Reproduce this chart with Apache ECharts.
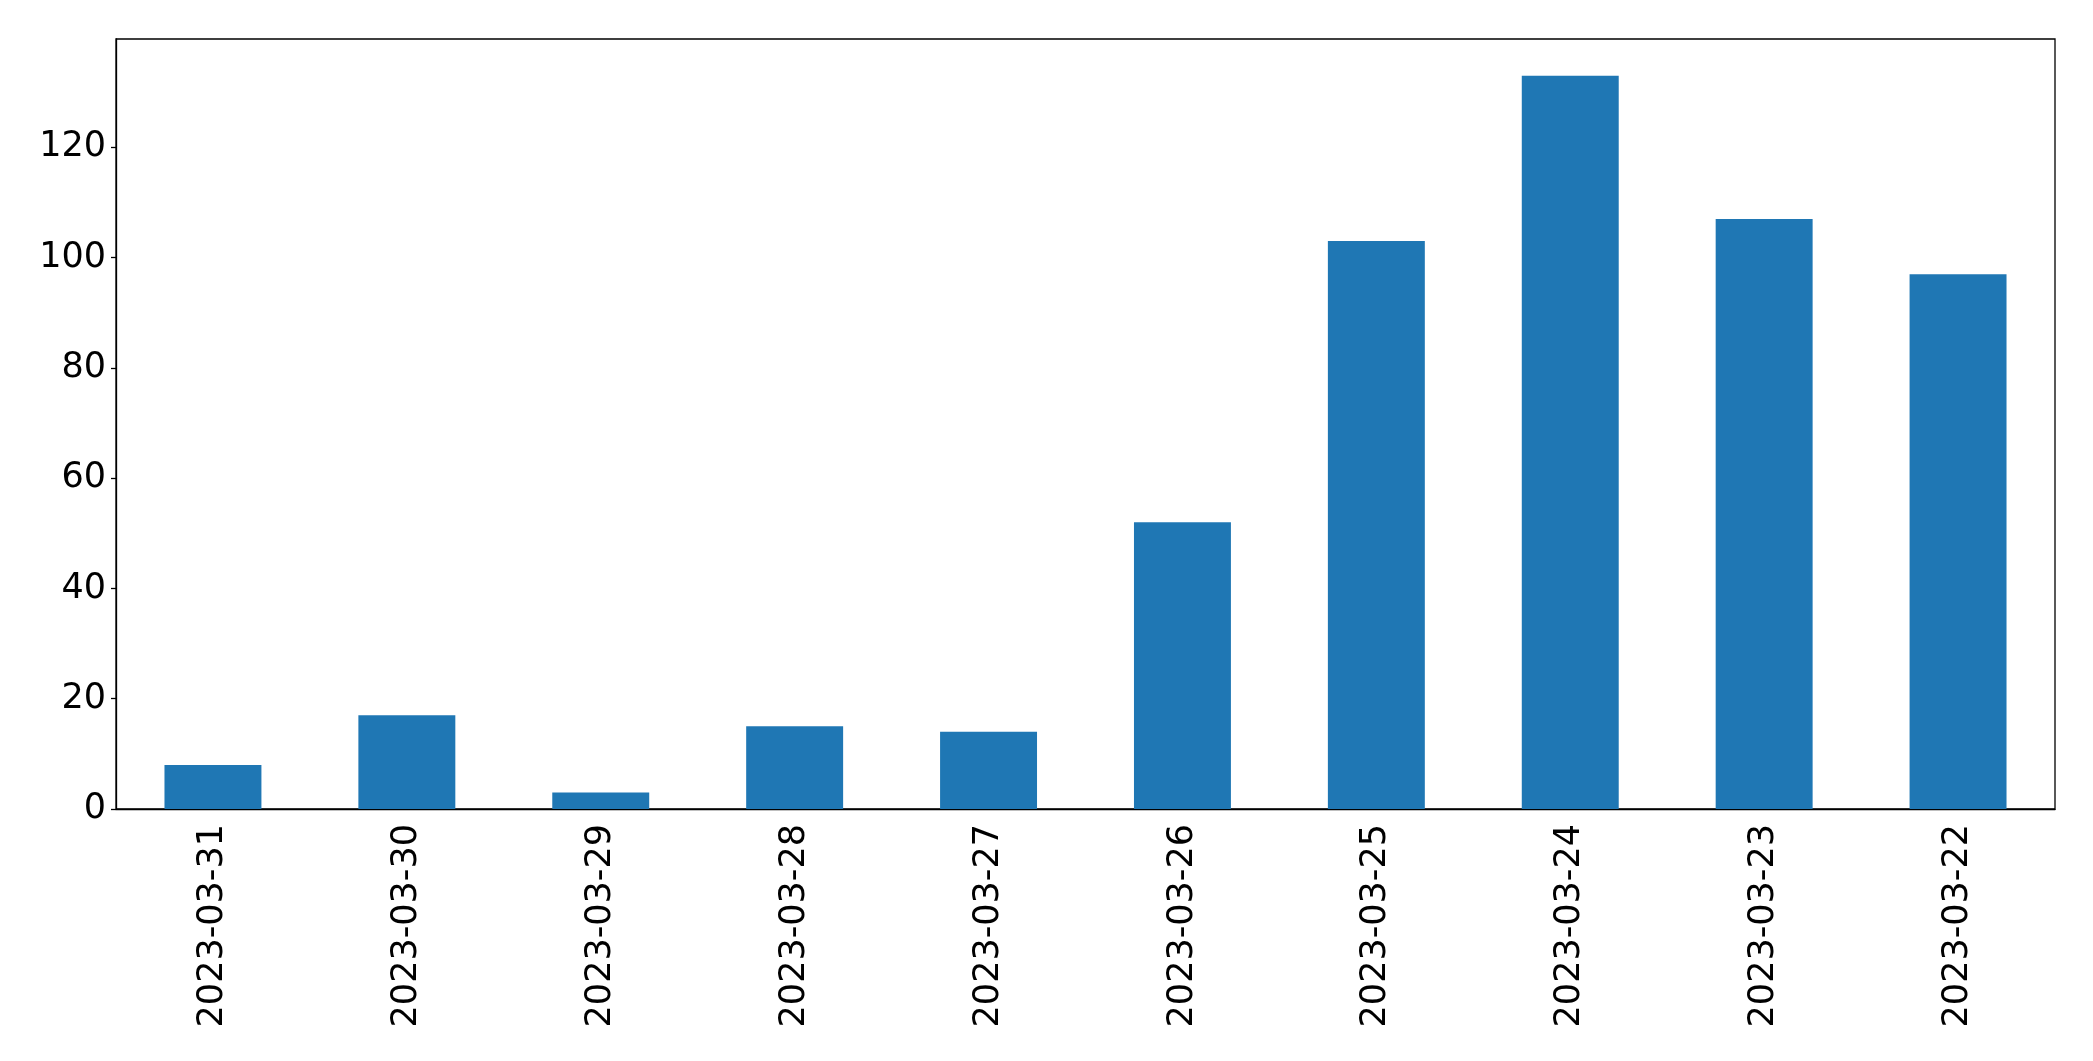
<!DOCTYPE html>
<html>
<head>
<meta charset="utf-8">
<script src="https://cdn.jsdelivr.net/npm/echarts@6/dist/echarts.min.js"></script>
<style>
  html, body { margin: 0; padding: 0; background: #fff; }
  #chart { width: 2093px; height: 1061px; }
</style>
</head>
<body>
<div id="chart"></div>
<script>
// dates, newest first (as in the source plot)
const dates = ['2023-03-31', '2023-03-30', '2023-03-29', '2023-03-28', '2023-03-27',
  '2023-03-26', '2023-03-25', '2023-03-24', '2023-03-23', '2023-03-22']
const counts = [8, 17, 3, 15, 14, 52, 103, 133, 107, 97]
const yTicks = [0, 20, 40, 60, 80, 100, 120]

const chart = echarts.init(document.getElementById('chart'))
chart.setOption({
  animation: false,
  grid: {
    left: 116,
    top: 39,
    right: 38,
    bottom: 252,
    show: true,
    borderColor: '#000',
    borderWidth: 1.3,
    backgroundColor: 'transparent'
  },
  xAxis: {
    type: 'category',
    data: dates,
    axisLine: { lineStyle: { color: '#000', width: 1.3 } },
    axisTick: { alignWithLabel: true, length: 5, lineStyle: { color: '#000', width: 1.3 } },
    axisLabel: {
      rotate: 90,
      margin: 15,
      color: '#000',
      fontFamily: 'DejaVu Sans',
      fontSize: 35
    },
    splitLine: { show: false }
  },
  yAxis: {
    type: 'value',
    min: 0,
    max: 139.65,
    interval: 20,
    axisLine: { show: true, lineStyle: { color: '#000', width: 1.3 } },
    axisTick: { show: true, length: 5, lineStyle: { color: '#000', width: 1.3 } },
    axisLabel: {
      margin: 10,
      color: '#000',
      fontFamily: 'DejaVu Sans',
      fontSize: 35,
      showMaxLabel: false,
      formatter: function (v) {
        return yTicks.indexOf(v) >= 0 ? String(v) : ''
      }
    },
    splitLine: { show: false }
  },
  series: [{
    type: 'bar',
    data: counts,
    barWidth: '50%',
    itemStyle: { color: '#1f77b4' }
  }]
})
</script>
</body>
</html>
